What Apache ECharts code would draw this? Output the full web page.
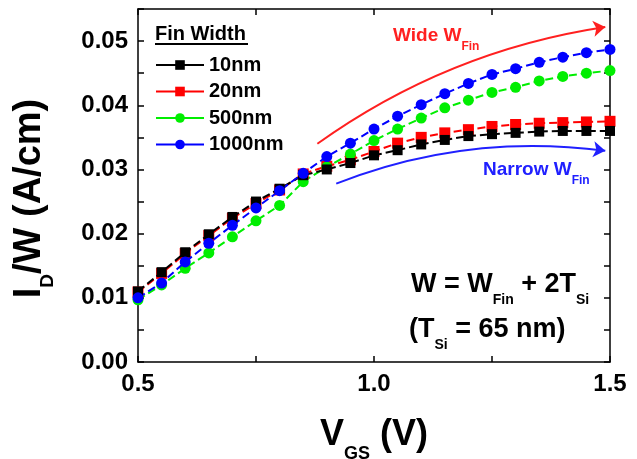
<!DOCTYPE html>
<html><head><meta charset="utf-8">
<script src="https://cdn.jsdelivr.net/npm/echarts/dist/echarts.min.js"></script>
<style>html,body{margin:0;padding:0;background:#fff}#c{width:637px;height:459px}</style>
</head><body><div id="c"></div>
<script>
const vgs = [0.5,0.55,0.6,0.65,0.7,0.75,0.8,0.85,0.9,0.95,1.0,1.05,1.1,1.15,1.2,1.25,1.3,1.35,1.4,1.45,1.5];
const seriesNames = ['10nm','20nm','500nm','1000nm'];
const fin10 = [0.0110,0.0140,0.0171,0.0199,0.0226,0.0250,0.0270,0.0291,0.0300,0.0310,0.0322,0.0330,0.0339,0.0346,0.0352,0.0355,0.0357,0.0359,0.0360,0.0360,0.0360];
const fin20 = [0.0109,0.0138,0.0169,0.0197,0.0224,0.0247,0.0268,0.0293,0.0305,0.0315,0.0328,0.0341,0.0350,0.0357,0.0362,0.0367,0.0370,0.0372,0.0373,0.0374,0.0375];
const fin500 = [0.0097,0.0120,0.0146,0.0170,0.0195,0.0220,0.0244,0.0281,0.0304,0.0324,0.0345,0.0363,0.0380,0.0396,0.0408,0.0420,0.0428,0.0438,0.0445,0.0450,0.0454];
const fin1000 = [0.0100,0.0123,0.0156,0.0185,0.0213,0.0240,0.0267,0.0294,0.0320,0.0341,0.0363,0.0383,0.0401,0.0418,0.0434,0.0448,0.0457,0.0467,0.0475,0.0482,0.0487];
const wideArrow = [[0.88,0.0340],[1.49,0.0522]];
const narrowArrow = [[0.92,0.0278],[1.49,0.0329]];
const colors = ['#000000','#ff0000','#00ee00','#0000ff'];

const FONT = '"Liberation Sans", Arial, sans-serif';
const chart = echarts.init(document.getElementById('c'), null, {renderer:'canvas'});

function mk(name, vals, color, symbol, size, z) {
  return {
    name, type:'line', data: vgs.map((x,i)=>[x, vals[i]]),
    symbol, symbolSize: size, z,
    itemStyle:{color}, lineStyle:{color, width:2, type:[8,4]},
    emphasis:{disabled:true}
  };
}
const axisCommon = {
  axisLine:{show:true, onZero:false, lineStyle:{color:'#000', width:1.5}},
  axisTick:{show:true, inside:true, length:6, lineStyle:{color:'#000', width:1.5}},
  minorTick:{show:true, splitNumber:2, length:6, lineStyle:{color:'#000', width:1.5}},
  splitLine:{show:false}
};
const sub = (fs, pb) => ({fontFamily:FONT, fontWeight:'bold', fontSize:fs, color:'#000', verticalAlign:'bottom', padding:[0,0,pb||0,0]});

const option = {
  animation:false,
  grid:{left:138, right:27, top:9, bottom:97, containLabel:false, outerBoundsMode:'none'},
  xAxis:[
    Object.assign({type:'value', min:0.5, max:1.5, interval:0.5, position:'bottom',
      name:'{m|V}{s|GS}{m| (V)}', nameLocation:'middle', nameGap:55,
      nameTextStyle:{rich:{m:sub(36,10), s:sub(18,0)}},
      axisLabel:{margin:10, fontFamily:FONT, fontWeight:'bold', fontSize:24, color:'#000', formatter:v=>v.toFixed(1)}
    }, axisCommon),
    Object.assign({type:'value', min:0.5, max:1.5, interval:0.5, position:'top', axisLabel:{show:false}}, axisCommon)
  ],
  yAxis:[
    Object.assign({type:'value', min:0, max:0.055, interval:0.01, position:'left',
      name:'{m|I}{s|D}{m|/W (A/cm)}', nameLocation:'middle', nameGap:81,
      nameTextStyle:{rich:{m:sub(38,8), s:sub(19,0)}, padding:[0,26,0,0]},
      axisLabel:{margin:10, showMaxLabel:false, fontFamily:FONT, fontWeight:'bold', fontSize:24, color:'#000', formatter:v=>v.toFixed(2)}
    }, axisCommon),
    Object.assign({type:'value', min:0, max:0.055, interval:0.01, position:'right', axisLabel:{show:false}}, axisCommon)
  ],
  legend:{
    data:seriesNames, left:150, top:50, orient:'vertical', itemWidth:48, itemHeight:12, itemGap:6.5,
    lineStyle:{type:'solid', width:2},
    textStyle:{fontFamily:FONT, fontWeight:'bold', fontSize:20, color:'#000'},
    selectedMode:false
  },
  series:[
    mk(seriesNames[0], fin10, colors[0], 'rect', 10, 3),
    mk(seriesNames[1], fin20, colors[1], 'rect', 11, 2),
    mk(seriesNames[2], fin500, colors[2], 'circle', 11, 2),
    mk(seriesNames[3], fin1000, colors[3], 'circle', 11, 3),
    {type:'lines', coordinateSystem:'cartesian2d', polyline:false, z:1,
      symbol:['none','arrow'], symbolSize:[0,12],
      lineStyle:{color:'#ff2020', width:2, curveness:0.12, opacity:1},
      data:[{coords:wideArrow}]},
    {type:'lines', coordinateSystem:'cartesian2d', polyline:false, z:1,
      symbol:['none','arrow'], symbolSize:[0,12],
      lineStyle:{color:'#2020ff', width:2, curveness:0.13, opacity:1},
      data:[{coords:narrowArrow}]}
  ],
  graphic:[
    {type:'text', left:155, top:24, style:{text:'Fin Width', font:'bold 20px '+FONT, fill:'#000'}},
    {type:'line', shape:{x1:155, y1:44, x2:248, y2:44}, style:{stroke:'#000', lineWidth:2}},
    {type:'text', left:393, top:26, style:{text:'{m|Wide W}{s|Fin}', rich:{m:{font:'bold 19px '+FONT, fill:'#ff2020', verticalAlign:'bottom', padding:[0,0,8,0]}, s:{font:'bold 12px '+FONT, fill:'#ff2020', verticalAlign:'bottom'}}}},
    {type:'text', left:483, top:160, style:{text:'{m|Narrow W}{s|Fin}', rich:{m:{font:'bold 19px '+FONT, fill:'#2020ff', verticalAlign:'bottom', padding:[0,0,8,0]}, s:{font:'bold 12px '+FONT, fill:'#2020ff', verticalAlign:'bottom'}}}},
    {type:'text', left:411, top:271, style:{text:'{m|W = W}{s|Fin}{m| + 2T}{s|Si}', rich:{m:{font:'bold 27px '+FONT, fill:'#000', verticalAlign:'bottom', padding:[0,0,9,0]}, s:{font:'bold 14px '+FONT, fill:'#000', verticalAlign:'bottom'}}}},
    {type:'text', left:409, top:316, style:{text:'{m|(T}{s|Si}{m| = 65 nm)}', rich:{m:{font:'bold 27px '+FONT, fill:'#000', verticalAlign:'bottom', padding:[0,0,9,0]}, s:{font:'bold 14px '+FONT, fill:'#000', verticalAlign:'bottom'}}}}
  ]
};
chart.setOption(option);
</script></body></html>
